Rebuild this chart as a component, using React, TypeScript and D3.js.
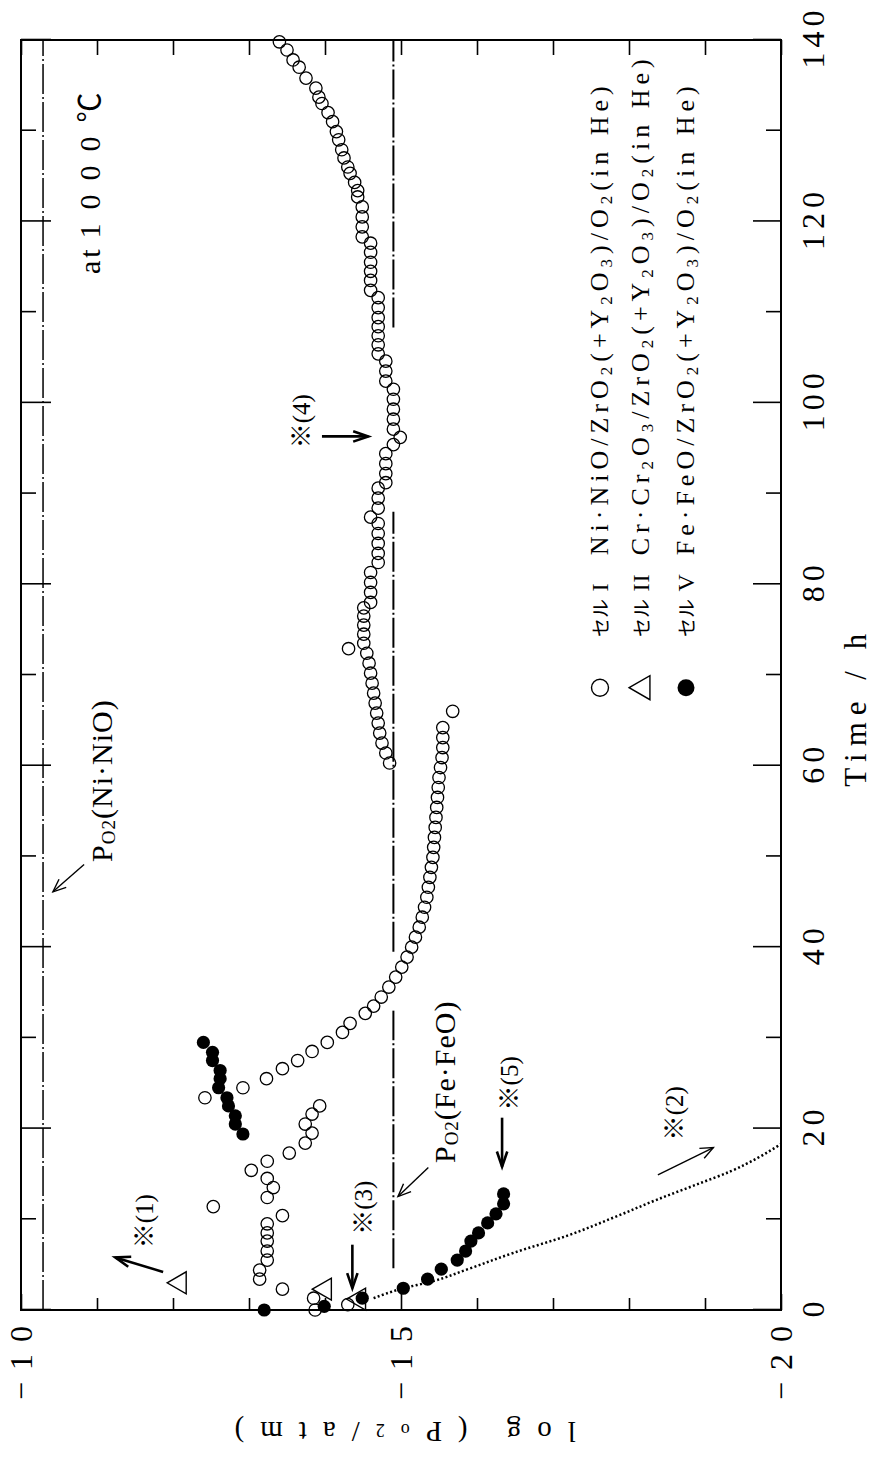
import React, { useEffect, useRef } from "react";
import * as d3 from "d3";

type Pt = [number, number];

// [time / h, log(Po2/atm)]
// セル I : open circles
const cellI: Pt[] = [
  [0.0, -13.87], [0.6, -14.3], [1.3, -13.85], [2.3, -13.44], [3.4, -13.14], [4.4, -13.14],
  [5.5, -13.24], [6.5, -13.24], [7.6, -13.24], [8.5, -13.24], [9.5, -13.24], [10.4, -13.44],
  [11.4, -12.53], [12.4, -13.24], [13.5, -13.32], [14.5, -13.24], [15.4, -13.03], [16.4, -13.24],
  [17.3, -13.53], [18.4, -13.74], [19.5, -13.83], [20.5, -13.74], [21.6, -13.83], [22.5, -13.93],
  [23.4, -12.42], [24.5, -12.92], [25.5, -13.23], [26.6, -13.44], [27.5, -13.64], [28.5, -13.83],
  [29.5, -14.03], [30.6, -14.23], [31.6, -14.33], [32.7, -14.53], [33.5, -14.64], [34.5, -14.74],
  [35.6, -14.84], [36.7, -14.93], [37.8, -15.01], [38.9, -15.08], [40.0, -15.14], [41.1, -15.19],
  [42.2, -15.24], [43.3, -15.28], [44.4, -15.31], [45.5, -15.34], [46.6, -15.36], [47.7, -15.38],
  [48.8, -15.4], [49.9, -15.42], [51.0, -15.43], [52.1, -15.44], [53.2, -15.45], [54.3, -15.46],
  [55.4, -15.47], [56.5, -15.48], [57.6, -15.49], [58.7, -15.5], [59.8, -15.52], [60.9, -15.54],
  [62.0, -15.55], [63.1, -15.55], [64.2, -15.55], [66.0, -15.68],
  [60.3, -14.85], [61.4, -14.8], [62.5, -14.75], [63.6, -14.72], [64.7, -14.7], [65.8, -14.68],
  [66.9, -14.66], [68.0, -14.64], [69.1, -14.62], [70.2, -14.6], [71.3, -14.58], [72.4, -14.55],
  [72.9, -14.31],
  [73.5, -14.51], [74.5, -14.51], [75.5, -14.51], [76.5, -14.51], [77.4, -14.51],
  [78.0, -14.6], [79.1, -14.6], [80.2, -14.6], [81.3, -14.6],
  [82.4, -14.7], [83.4, -14.7], [84.5, -14.7], [85.6, -14.7], [86.7, -14.7], [87.4, -14.6],
  [88.4, -14.7], [89.5, -14.7], [90.6, -14.7], [91.2, -14.8], [92.2, -14.8], [93.3, -14.8],
  [94.4, -14.8], [95.4, -14.9], [96.2, -14.99], [97.1, -14.9], [98.2, -14.9], [99.3, -14.9],
  [100.4, -14.9], [101.5, -14.9], [102.4, -14.8], [103.5, -14.8], [104.6, -14.8],
  [105.4, -14.7], [106.4, -14.7], [107.4, -14.7], [108.4, -14.7], [109.4, -14.7], [110.5, -14.7], [111.6, -14.7],
  [112.4, -14.6], [113.5, -14.6], [114.5, -14.6], [115.5, -14.6], [116.6, -14.6], [117.6, -14.6],
  [118.3, -14.49], [119.4, -14.49], [120.5, -14.49], [121.6, -14.49],
  [122.7, -14.43], [123.4, -14.43], [124.3, -14.39], [125.3, -14.33], [126.0, -14.3], [127.0, -14.25],
  [127.9, -14.22], [129.0, -14.18], [129.9, -14.15], [131.0, -14.1], [132.0, -14.04], [133.0, -13.96],
  [133.7, -13.92], [134.7, -13.88], [135.8, -13.75], [137.0, -13.66], [137.8, -13.58], [138.9, -13.5],
  [139.8, -13.4],
];

// セル II : open triangles
const cellII: Pt[] = [[1.2, -14.45], [2.3, -14.0], [3.0, -12.09]];

// セル V : filled circles
const cellV: Pt[] = [
  [0.0, -13.2], [0.4, -13.99], [1.3, -14.49], [2.4, -15.03], [3.4, -15.35], [4.5, -15.53],
  [5.5, -15.74], [6.5, -15.85], [7.6, -15.92], [8.5, -16.02], [9.6, -16.14], [10.6, -16.25],
  [11.7, -16.35], [12.8, -16.35],
  [19.4, -12.92], [20.5, -12.82], [21.4, -12.82], [22.5, -12.73], [23.4, -12.71], [24.5, -12.6],
  [25.5, -12.62], [26.4, -12.62], [27.5, -12.52], [28.4, -12.52], [29.5, -12.4],
];

// ※(2) dotted trace
const trace2: Pt[] = [
  [1.3, -14.64], [2.3, -14.99], [3.2, -15.43], [4.5, -15.88], [6.3, -16.48], [8.2, -17.19],
  [10.2, -17.8], [12.2, -18.38], [13.9, -18.91], [15.3, -19.34], [16.8, -19.7], [18.3, -20.0],
];

const niNiO = -10.29;
const feFeO = -14.9;
const feRuns: Pt[] = [[108.3, 140], [39.5, 88], [4.6, 33]];

const timeMajor = [0, 20, 40, 60, 80, 100, 120, 140];
const timeMinor = [10, 30, 50, 70, 90, 110, 130];
const logMinor = [-11, -12, -13, -14, -16, -17, -18, -19];
const logMajor = [-10, -15, -20];

const notes = [
  { s: "※(1)", at: [6.8, -11.74] },
  { s: "※(2)", at: [18.7, -18.71] },
  { s: "※(3)", at: [8.3, -14.62] },
  { s: "※(4)", at: [95.0, -13.8] },
  { s: "※(5)", at: [22.0, -16.54] },
];

const eqLabels = [
  { s: "P_O_2(Ni·NiO)", at: [49.4, -11.2] },
  { s: "P_O_2(Fe·FeO)", at: [16.2, -15.71] },
];

const pointers = [
  { from: [49.1, -10.83], to: [46.1, -10.42], bold: false },
  { from: [15.7, -15.36], to: [12.5, -14.96], bold: false },
  { from: [4.2, -11.87], to: [5.8, -11.24], bold: true },
  { from: [14.9, -18.38], to: [17.9, -19.11], bold: false },
  { from: [7.2, -14.36], to: [2.4, -14.36], bold: true },
  { from: [96.3, -13.96], to: [96.3, -14.57], bold: true },
  { from: [21.2, -16.33], to: [15.8, -16.33], bold: true },
];

const legendRows = [
  { sym: "open", cell: "I", formula: "Ni·NiO/ZrO_2(+Y_2O_3)/O_2(in He)" },
  { sym: "tri", cell: "II", formula: "Cr·Cr_2O_3/ZrO_2(+Y_2O_3)/O_2(in He)" },
  { sym: "dot", cell: "V", formula: "Fe·FeO/ZrO_2(+Y_2O_3)/O_2(in He)" },
];

const serif = "'Liberation Serif', 'Noto Sans CJK JP', serif";
const PAGE_W = 889;
const PAGE_H = 1460;

// text with "_x" = subscript x
function rich(sel: any, s: string, size: number, subSize: number, shift: number) {
  const runs: { t: string; sub: boolean }[] = [];
  for (let i = 0; i < s.length; i++) {
    let c = s[i];
    let isSub = false;
    if (c === "_") {
      c = s[++i];
      isSub = true;
    }
    const last = runs[runs.length - 1];
    if (last && last.sub === isSub) last.t += c;
    else runs.push({ t: c, sub: isSub });
  }
  let cur = 0;
  runs.forEach((r) => {
    const target = r.sub ? shift : 0;
    sel.append("tspan").attr("dy", target - cur).attr("font-size", r.sub ? subSize : size).text(r.t);
    cur = target;
  });
}

const triPath = (a: number) => {
  const h = (a * Math.sqrt(3)) / 2;
  return `M0,${(-2 * h) / 3}L${a / 2},${h / 3}L${-a / 2},${h / 3}Z`;
};

const App = () => {
  const svgRef = useRef<SVGSVGElement>(null);

  useEffect(() => {
    const svg = d3.select(svgRef.current);
    svg.selectAll("*").remove();

    // chart is drawn upright, then turned a quarter turn to the left
    const x = d3.scaleLinear().domain([0, 140]).range([150, 1420]);
    const y = d3.scaleLinear().domain([-10, -20]).range([21, 781]);

    const g = svg
      .append("g")
      .attr("transform", `translate(0,${PAGE_H}) rotate(-90)`)
      .attr("font-family", serif)
      .attr("fill", "#000");

    const styleAxis = (sel: any) => {
      sel.select(".domain").remove();
      sel.attr("font-family", serif).attr("font-size", 32);
      sel.selectAll("line").attr("stroke", "#000").attr("stroke-width", 1.6);
    };

    // time axis (bottom) + mirrored top
    g.append("g").attr("transform", "translate(0,781)")
      .call(d3.axisBottom(x).tickValues(timeMinor).tickSize(-15).tickFormat(() => ""))
      .call(styleAxis);
    g.append("g").attr("transform", "translate(0,781)")
      .call(d3.axisBottom(x).tickValues(timeMajor).tickSize(-28).tickPadding(20).tickFormat(d3.format("d")))
      .call(styleAxis)
      .selectAll("text").attr("letter-spacing", 5).attr("dx", 2.5);
    g.append("g").attr("transform", "translate(0,21)")
      .call(d3.axisTop(x).tickValues(timeMinor).tickSize(-15).tickFormat(() => ""))
      .call(styleAxis);
    g.append("g").attr("transform", "translate(0,21)")
      .call(d3.axisTop(x).tickValues(timeMajor).tickSize(-30).tickFormat(() => ""))
      .call(styleAxis);

    // log axis (left) + mirrored right
    g.append("g").attr("transform", "translate(150,0)")
      .call(d3.axisLeft(y).tickValues(logMinor).tickSize(-12).tickFormat(() => ""))
      .call(styleAxis);
    g.append("g").attr("transform", "translate(150,0)")
      .call(d3.axisLeft(y).tickValues(logMajor).tickSize(-16).tickPadding(4).tickFormat((d: any) => "−" + Math.abs(d)))
      .call(styleAxis)
      .selectAll("text").attr("letter-spacing", 12);
    g.append("g").attr("transform", "translate(1420,0)")
      .call(d3.axisRight(y).tickValues(logMinor.concat(logMajor)).tickSize(-15).tickFormat(() => ""))
      .call(styleAxis);

    // frame
    g.append("rect")
      .attr("x", x(0)).attr("y", y(-10))
      .attr("width", x(140) - x(0)).attr("height", y(-20) - y(-10))
      .attr("fill", "none").attr("stroke", "#000").attr("stroke-width", 2);

    // axis titles
    g.append("text")
      .attr("x", x(66.5)).attr("y", 866)
      .attr("text-anchor", "middle").attr("font-size", 31).attr("letter-spacing", 7)
      .text("Time / h");
    const yt = g.append("text")
      .attr("transform", `translate(38,${y(-14.95)}) rotate(-90)`)
      .attr("text-anchor", "middle").attr("letter-spacing", 16);
    rich(yt, "log (P_o_2/atm)", 29, 18, -2);

    // equilibrium lines
    g.append("line")
      .attr("x1", x(0)).attr("x2", x(140)).attr("y1", y(niNiO)).attr("y2", y(niNiO))
      .attr("stroke", "#000").attr("stroke-width", 1.5).attr("stroke-dasharray", "30,3,2,3");
    feRuns.forEach(([a, b]) => {
      g.append("line")
        .attr("x1", x(a)).attr("x2", x(b)).attr("y1", y(feFeO)).attr("y2", y(feFeO))
        .attr("stroke", "#000").attr("stroke-width", 2).attr("stroke-dasharray", "30,3,2,3");
    });

    // ※(2) dotted trace
    g.append("path")
      .datum(trace2)
      .attr("d", d3.line<Pt>().x((d) => x(d[0])).y((d) => y(d[1])).curve(d3.curveMonotoneX))
      .attr("fill", "none").attr("stroke", "#000").attr("stroke-width", 2.5)
      .attr("stroke-dasharray", "2,2.4");

    // data
    g.append("g").selectAll("circle").data(cellI).join("circle")
      .attr("cx", (d) => x(d[0])).attr("cy", (d) => y(d[1])).attr("r", 6.2)
      .attr("fill", "none").attr("stroke", "#000").attr("stroke-width", 1.3);
    g.append("g").selectAll("path").data(cellII).join("path")
      .attr("transform", (d) => `translate(${x(d[0])},${y(d[1])})`)
      .attr("d", triPath(22))
      .attr("fill", "none").attr("stroke", "#000").attr("stroke-width", 1.4);
    g.append("g").selectAll("circle").data(cellV).join("circle")
      .attr("cx", (d) => x(d[0])).attr("cy", (d) => y(d[1])).attr("r", 6.6)
      .attr("fill", "#000");

    // arrows
    pointers.forEach((p) => {
      const x0 = x(p.from[0]), y0 = y(p.from[1]);
      const x1 = x(p.to[0]), y1 = y(p.to[1]);
      const ang = Math.atan2(y1 - y0, x1 - x0);
      const L = p.bold ? 16 : 14;
      const sp = p.bold ? 0.33 : 0.4;
      const barb = (s: number): [number, number] => [x1 - L * Math.cos(ang + s), y1 - L * Math.sin(ang + s)];
      const w = p.bold ? 2.6 : 1.4;
      g.append("line").attr("x1", x0).attr("y1", y0).attr("x2", x1).attr("y2", y1)
        .attr("stroke", "#000").attr("stroke-width", w);
      g.append("path").attr("d", d3.line()([barb(sp), [x1, y1], barb(-sp)]))
        .attr("fill", "none").attr("stroke", "#000").attr("stroke-width", w);
    });

    // notes
    notes.forEach((n) => {
      g.append("text").attr("x", x(n.at[0])).attr("y", y(n.at[1]))
        .attr("font-size", 25).text(n.s);
    });
    eqLabels.forEach((n) => {
      const t = g.append("text").attr("x", x(n.at[0])).attr("y", y(n.at[1])).attr("letter-spacing", 1);
      rich(t, n.s, 30, 19, 3);
    });

    const at = g.append("text").attr("x", x(114.2)).attr("y", 100).attr("font-size", 30);
    at.append("tspan").attr("letter-spacing", 3).text("at");
    at.append("tspan").attr("dx", 8).attr("letter-spacing", 14).text("1000℃");

    // legend
    const lg = g.append("g");
    legendRows.forEach((r, i) => {
      const v = [600, 641, 686][i];
      const u = x(68.6);
      if (r.sym === "open") {
        lg.append("circle").attr("cx", u).attr("cy", v).attr("r", 8.5)
          .attr("fill", "none").attr("stroke", "#000").attr("stroke-width", 1.4);
      } else if (r.sym === "tri") {
        lg.append("path").attr("transform", `translate(${u},${v + 2})`).attr("d", triPath(24))
          .attr("fill", "none").attr("stroke", "#000").attr("stroke-width", 1.4);
      } else {
        lg.append("circle").attr("cx", u).attr("cy", v).attr("r", 8.5).attr("fill", "#000");
      }
      lg.append("text").attr("x", x(74.2)).attr("y", v + 8)
        .attr("font-family", "'Noto Sans CJK JP', sans-serif").attr("font-size", 19)
        .text("セル");
      lg.append("text").attr("x", x(79.2)).attr("y", v + 8).attr("font-size", 24).attr("letter-spacing", 1)
        .text(r.cell);
      const ft = lg.append("text").attr("x", x(83.2)).attr("y", v + 8).attr("letter-spacing", 5);
      rich(ft, r.formula, 26, 17, 4);
    });
  }, []);

  return (
    <svg
      ref={svgRef}
      width={PAGE_W}
      height={PAGE_H}
      style={{ position: "absolute", left: 0, top: 0, background: "#fff" }}
    />
  );
};

export default App;
